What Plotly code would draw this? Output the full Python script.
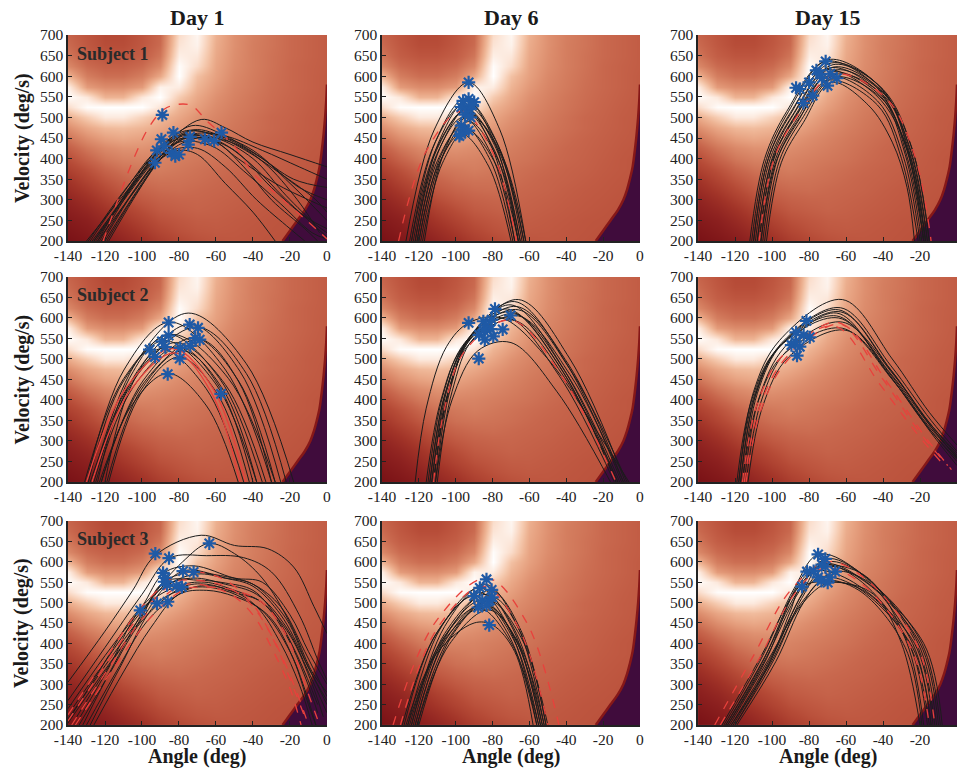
import plotly.graph_objects as go
from plotly.subplots import make_subplots

# ---------------- background landscape (read by eye, level 0..1) ----------------
angle_grid = [-140, -130, -120, -110, -100, -90, -80, -70, -60, -50, -40, -30, -20, -10, 0]
velocity_grid = [200, 225, 250, 275, 300, 325, 350, 375, 400, 425, 450, 475, 500,
                 525, 550, 575, 600, 625, 650, 675, 700]
landscape_level = [
    [0.198, 0.228, 0.266, 0.318, 0.379, 0.442, 0.491, 0.521, 0.540, 0.545, 0.540, 0.533, 0.525, 0.518, 0.512],
    [0.223, 0.258, 0.304, 0.362, 0.425, 0.485, 0.524, 0.547, 0.556, 0.552, 0.544, 0.537, 0.530, 0.522, 0.515],
    [0.251, 0.288, 0.347, 0.411, 0.471, 0.522, 0.547, 0.565, 0.567, 0.558, 0.550, 0.540, 0.535, 0.527, 0.520],
    [0.282, 0.328, 0.392, 0.457, 0.512, 0.555, 0.572, 0.585, 0.577, 0.567, 0.557, 0.548, 0.540, 0.532, 0.523],
    [0.313, 0.373, 0.443, 0.508, 0.552, 0.580, 0.592, 0.595, 0.585, 0.575, 0.563, 0.553, 0.545, 0.535, 0.527],
    [0.359, 0.424, 0.494, 0.552, 0.588, 0.609, 0.615, 0.605, 0.595, 0.585, 0.570, 0.558, 0.550, 0.540, 0.530],
    [0.405, 0.480, 0.545, 0.592, 0.623, 0.634, 0.630, 0.620, 0.605, 0.590, 0.580, 0.567, 0.555, 0.545, 0.535],
    [0.461, 0.526, 0.592, 0.631, 0.646, 0.660, 0.645, 0.630, 0.615, 0.600, 0.585, 0.575, 0.560, 0.550, 0.540],
    [0.512, 0.586, 0.643, 0.671, 0.680, 0.675, 0.660, 0.645, 0.630, 0.610, 0.595, 0.580, 0.565, 0.550, 0.540],
    [0.573, 0.642, 0.689, 0.713, 0.715, 0.700, 0.680, 0.660, 0.640, 0.620, 0.600, 0.585, 0.570, 0.555, 0.545],
    [0.636, 0.706, 0.750, 0.770, 0.755, 0.730, 0.700, 0.675, 0.650, 0.630, 0.610, 0.590, 0.575, 0.560, 0.550],
    [0.702, 0.767, 0.810, 0.820, 0.800, 0.770, 0.730, 0.695, 0.665, 0.640, 0.620, 0.600, 0.580, 0.565, 0.550],
    [0.780, 0.860, 0.935, 0.935, 0.875, 0.815, 0.765, 0.715, 0.680, 0.650, 0.625, 0.600, 0.585, 0.565, 0.555],
    [0.900, 0.990, 1.000, 1.000, 1.000, 0.920, 0.800, 0.745, 0.695, 0.660, 0.635, 0.610, 0.590, 0.570, 0.555],
    [0.990, 0.930, 0.800, 0.800, 0.930, 1.000, 0.855, 0.770, 0.710, 0.670, 0.640, 0.615, 0.595, 0.575, 0.558],
    [0.950, 0.740, 0.700, 0.700, 0.740, 0.960, 0.940, 0.800, 0.730, 0.680, 0.650, 0.620, 0.600, 0.580, 0.560],
    [0.800, 0.660, 0.620, 0.620, 0.660, 0.770, 1.000, 0.830, 0.750, 0.690, 0.655, 0.625, 0.600, 0.580, 0.560],
    [0.690, 0.610, 0.580, 0.580, 0.610, 0.690, 0.990, 0.900, 0.760, 0.700, 0.660, 0.630, 0.600, 0.580, 0.565],
    [0.640, 0.570, 0.540, 0.540, 0.570, 0.640, 0.950, 0.930, 0.770, 0.705, 0.660, 0.630, 0.605, 0.585, 0.565],
    [0.610, 0.550, 0.510, 0.510, 0.550, 0.610, 0.920, 0.960, 0.780, 0.710, 0.660, 0.635, 0.605, 0.585, 0.565],
    [0.590, 0.540, 0.500, 0.500, 0.540, 0.600, 0.900, 0.970, 0.790, 0.710, 0.665, 0.635, 0.605, 0.585, 0.565],
]
# purple (infeasible) region boundary
purple_edge_angle = [-24, -20, -16, -12, -9, -7, -5.5, -4, -2.8, -1.8, -1, -0.4, 0]
purple_edge_velocity = [200, 225, 250, 275, 300, 325, 350, 380, 420, 460, 500, 540, 580]

landscape_colors = [
    [0.00, '#3c0b3b'], [0.15, '#6e0e18'], [0.20, '#7a1216'], [0.30, '#8e2220'],
    [0.40, '#a23428'], [0.50, '#b54a36'], [0.55, '#bf5841'], [0.60, '#c8674d'],
    [0.65, '#d27a5c'], [0.70, '#dc8c6c'], [0.75, '#e6a07f'], [0.80, '#eeb494'],
    [0.85, '#f5c9ae'], [0.90, '#fadcca'], [0.95, '#fdefe6'], [1.00, '#ffffff'],
]

# ---------------- text / ticks ----------------
day_titles = ["Day 1", "Day 6", "Day 15"]
subject_labels = ["Subject 1", "Subject 2", "Subject 3"]
x_tick_values = [-140, -120, -100, -80, -60, -40, -20, 0]
x_tick_labels = ["-140", "-120", "-100", "-80", "-60", "-40", "-20", "0"]
y_tick_values = [200, 250, 300, 350, 400, 450, 500, 550, 600, 650, 700]
y_tick_labels = ["200", "250", "300", "350", "400", "450", "500", "550", "600", "650", "700"]

# ---------------- Subject 1 ----------------
s1_day1_black = [
    [(-128, 200), (-108, 330), (-92, 420), (-72, 470), (-55, 450), (-35, 400), (-15, 330), (0, 300)],
    [(-125, 200), (-106, 330), (-90, 425), (-73, 480), (-57, 460), (-38, 410), (-18, 350), (0, 330)],
    [(-123, 200), (-104, 340), (-88, 430), (-68, 495), (-55, 475), (-40, 440), (-20, 410), (0, 380)],
    [(-127, 200), (-107, 320), (-92, 405), (-78, 455), (-60, 445), (-42, 390), (-22, 300), (-5, 230), (0, 210)],
    [(-121, 200), (-103, 330), (-88, 415), (-75, 465), (-58, 455), (-40, 420), (-20, 340), (0, 250)],
    [(-126, 200), (-108, 310), (-94, 390), (-80, 440), (-62, 430), (-45, 370), (-25, 290), (-8, 220), (0, 205)],
    [(-120, 200), (-103, 320), (-90, 400), (-76, 450), (-60, 440), (-45, 380), (-30, 300), (-12, 230), (-5, 200)],
    [(-124, 200), (-105, 315), (-91, 395), (-80, 420), (-70, 410), (-55, 340), (-40, 270), (-28, 200)],
    [(-118, 200), (-100, 335), (-86, 425), (-72, 460), (-55, 455), (-35, 420), (-15, 380), (0, 350)],
    [(-129, 200), (-110, 320), (-95, 400), (-82, 445), (-66, 448), (-50, 420), (-30, 330), (-12, 260), (0, 230)],
    [(-122, 200), (-104, 325), (-89, 410), (-74, 455), (-60, 450), (-40, 400), (-22, 310), (-6, 240), (0, 220)],
    [(-119, 200), (-101, 330), (-86, 415), (-70, 450), (-52, 440), (-34, 390), (-16, 300), (-4, 220)],
    [(-126, 200), (-107, 325), (-92, 410), (-78, 458), (-62, 445), (-48, 400), (-28, 340), (-10, 300), (0, 280)],
    [(-124, 200), (-106, 335), (-90, 430), (-76, 468), (-60, 455), (-44, 420), (-24, 360), (-6, 300), (0, 270)],
    [(-130, 200), (-112, 300), (-97, 380), (-84, 420), (-70, 425), (-55, 380), (-38, 300), (-20, 230), (-12, 200)],
]
s1_day1_red = [
    [(-121, 200), (-113, 300), (-104, 405), (-96, 478), (-88, 520), (-80, 532), (-73, 528), (-65, 492),
     (-50, 430), (-40, 365), (-25, 305), (-11, 250), (0, 205)],
]
s1_day1_star_angle = [-89, -83, -89.5, -75, -92, -88, -93, -84, -82, -74, -66, -57, -61, -80]
s1_day1_star_velocity = [506, 463, 447, 434, 420, 430, 390, 414, 406, 453, 447, 463, 443, 410]

s1_day6_black = [
    [(-127, 200), (-111.7, 469.5), (-93, 585), (-76, 469.5), (-62, 200)],
    [(-124, 200), (-111, 441.5), (-95, 545), (-79, 441.5), (-66, 200)],
    [(-122, 200), (-109.4, 438), (-94, 540), (-77.5, 438), (-64, 200)],
    [(-125, 200), (-112, 431), (-96, 530), (-80.6, 431), (-68, 200)],
    [(-121, 200), (-108.4, 427.5), (-93, 525), (-76.5, 427.5), (-63, 200)],
    [(-123, 200), (-110.4, 420.5), (-95, 515), (-79, 420.5), (-66, 200)],
    [(-120, 200), (-107.4, 413.5), (-92, 505), (-75.5, 413.5), (-62, 200)],
    [(-122, 200), (-110.3, 410), (-96, 500), (-80.6, 410), (-68, 200)],
    [(-119, 200), (-107.3, 403), (-93, 490), (-77.6, 403), (-65, 200)],
    [(-121, 200), (-109.8, 396), (-96, 480), (-81.2, 396), (-69, 200)],
    [(-118, 200), (-107.2, 389), (-94, 470), (-78.6, 389), (-66, 200)],
    [(-120, 200), (-109.7, 382), (-97, 460), (-82.2, 382), (-70, 200)],
    [(-117, 200), (-106.2, 417), (-93, 510), (-76.5, 417), (-63, 200)],
    [(-124, 200), (-110.5, 424), (-94, 520), (-78, 424), (-65, 200)],
]
s1_day6_red = [
    [(-131, 200), (-115.7, 420.5), (-97, 515), (-80.5, 420.5), (-67, 200)],
]
s1_day6_star_angle = [-93, -93, -90, -96, -97, -93, -95, -92, -97, -95, -97, -93, -98, -91]
s1_day6_star_velocity = [585, 545, 537, 540, 525, 520, 507, 500, 480, 470, 460, 468, 455, 530]

s1_day15_black = [
    [(-111, 200), (-103, 400), (-91, 515), (-70, 640), (-43, 580), (-25, 420), (-16, 200)],
    [(-110, 200), (-102, 400), (-90, 512), (-68, 632), (-41, 572), (-26, 420), (-17, 200)],
    [(-108, 200), (-100, 400), (-88, 510), (-67, 628), (-40, 568), (-24, 420), (-15, 200)],
    [(-109, 200), (-101, 400), (-89, 505), (-69, 620), (-42, 560), (-27, 420), (-18, 200)],
    [(-107, 200), (-99, 400), (-87, 505), (-66, 615), (-39, 555), (-25, 415), (-16, 200)],
    [(-106, 200), (-98, 400), (-86, 500), (-68, 610), (-41, 550), (-28, 410), (-19, 200)],
    [(-105, 200), (-97, 400), (-85, 500), (-65, 605), (-38, 545), (-26, 410), (-17, 200)],
    [(-108, 200), (-100, 395), (-88, 495), (-70, 600), (-43, 540), (-29, 405), (-20, 200)],
    [(-104, 200), (-96, 395), (-84, 495), (-66, 598), (-39, 538), (-27, 405), (-18, 200)],
    [(-106, 200), (-98, 390), (-86, 490), (-70, 590), (-43, 530), (-30, 400), (-21, 200)],
    [(-103, 200), (-95, 390), (-83, 488), (-68, 585), (-48, 530), (-35, 440), (-27, 330), (-23, 200)],
    [(-110, 200), (-102, 400), (-90, 508), (-72, 615), (-44, 555), (-26, 415), (-17, 200)],
    [(-107, 200), (-99, 400), (-87, 508), (-67, 622), (-40, 562), (-24, 420), (-15, 200)],
    [(-112, 200), (-104, 400), (-92, 515), (-71, 636), (-44, 576), (-27, 420), (-18, 200)],
]
s1_day15_red = [
    [(-107, 200), (-99, 398), (-87, 500), (-66, 605), (-38, 545), (-23, 410), (-14, 200)],
]
s1_day15_star_angle = [-71, -85, -83, -78, -76, -73, -68.5, -65, -70, -87, -80, -74]
s1_day15_star_velocity = [636, 569, 535, 553, 614, 595, 606, 595, 577, 572, 585, 605]

# ---------------- Subject 2 ----------------
s2_day1_black = [
    [(-127, 200), (-103.6, 488.4), (-75, 612), (-43.6, 488.4), (-18, 200)],
    [(-130, 200), (-109.8, 473), (-85, 590), (-54.8, 473), (-30, 200)],
    [(-126, 200), (-102.6, 469.5), (-74, 585), (-47, 469.5), (-25, 200)],
    [(-128, 200), (-101.9, 464.6), (-70, 578), (-43.6, 464.6), (-22, 200)],
    [(-124, 200), (-106.9, 452), (-86, 560), (-58, 452), (-35, 200)],
    [(-129, 200), (-110.6, 441.5), (-88, 545), (-60.5, 441.5), (-38, 200)],
    [(-122, 200), (-99.5, 446.4), (-72, 552), (-47.8, 446.4), (-28, 200)],
    [(-125, 200), (-104.8, 431), (-80, 530), (-58, 431), (-40, 200)],
    [(-120, 200), (-106.5, 427.5), (-90, 525), (-65.3, 427.5), (-45, 200)],
    [(-127, 200), (-106.8, 438), (-82, 540), (-55, 438), (-33, 200)],
    [(-118, 200), (-100.9, 413.5), (-80, 505), (-59.1, 413.5), (-42, 200)],
    [(-122, 200), (-105.8, 385.5), (-86, 465), (-65.1, 385.5), (-48, 200)],
    [(-131, 200), (-109.9, 452), (-84, 560), (-53.2, 452), (-28, 200)],
    [(-123, 200), (-98.7, 443.6), (-69, 548), (-47.6, 443.6), (-30, 200)],
    [(-119, 200), (-100.6, 424), (-78, 520), (-56, 424), (-38, 200)],
]
s2_day1_red = [
    [(-130, 200), (-108.9, 427.5), (-83, 525), (-61.6, 427.5), (-44, 200)],
    [(-127, 200), (-106.8, 420.5), (-82, 515), (-62.8, 420.5), (-47, 200)],
]
s2_day1_star_angle = [-85.6, -74.2, -69.7, -95.9, -89.2, -85.6, -87.4, -79.3, -79.6, -73.9, -71.2, -68.8, -86.1, -57.3, -93]
s2_day1_star_velocity = [589, 584, 576, 523, 543, 557, 529, 527, 501, 532, 551, 547, 463, 415, 505]

s2_day6_black = [
    [(-113, 200), (-105, 420), (-93, 550), (-66, 645), (-38, 500), (-8, 200)],
    [(-112, 200), (-104, 420), (-92, 555), (-68, 640), (-40, 490), (-10, 200)],
    [(-114, 200), (-106, 410), (-94, 545), (-70, 632), (-42, 480), (-12, 200)],
    [(-111, 200), (-103, 425), (-91, 560), (-66, 620), (-38, 475), (-7, 200)],
    [(-115, 200), (-107, 410), (-95, 540), (-70, 615), (-42, 470), (-13, 200)],
    [(-112, 200), (-104, 415), (-92, 548), (-68, 610), (-40, 465), (-11, 200)],
    [(-110, 200), (-102, 420), (-90, 552), (-66, 605), (-38, 462), (-9, 200)],
    [(-116, 200), (-108, 400), (-96, 530), (-72, 600), (-44, 460), (-14, 200)],
    [(-113, 200), (-105, 405), (-93, 535), (-69, 595), (-41, 455), (-12, 200)],
    [(-111, 200), (-102, 400), (-88, 520), (-70, 540), (-45, 420), (-16, 200)],
    [(-122, 200), (-116, 380), (-105, 530), (-93, 588), (-75, 600), (-50, 500), (-20, 300), (-6, 200)],
    [(-114, 200), (-106, 412), (-93, 548), (-72, 622), (-44, 485), (-13, 200)],
    [(-112, 200), (-104, 418), (-91, 556), (-67, 628), (-39, 488), (-9, 200)],
]
s2_day6_red = [
    [(-112, 200), (-106, 380), (-95, 520), (-70, 595), (-42, 455), (-13, 200)],
]
s2_day6_star_angle = [-93, -78.7, -70.2, -85, -80.5, -87.3, -83.3, -81, -79.6, -74.5, -87.5, -84.2, -85]
s2_day6_star_velocity = [588, 622, 606, 592, 596, 559, 581, 573, 555, 572, 501, 547, 570]

s2_day15_black = [
    [(-118, 200), (-110, 420), (-96, 545), (-62, 645), (-35, 500), (-15, 370), (0, 290)],
    [(-116, 200), (-108, 415), (-94, 540), (-64, 620), (-37, 480), (-16, 350), (0, 270)],
    [(-117, 200), (-109, 410), (-95, 535), (-63, 615), (-36, 475), (-15, 345), (0, 265)],
    [(-115, 200), (-107, 405), (-93, 530), (-65, 612), (-38, 470), (-17, 340), (0, 255)],
    [(-119, 200), (-111, 400), (-97, 525), (-64, 600), (-36, 465), (-15, 340), (0, 260)],
    [(-114, 200), (-106, 395), (-92, 520), (-62, 590), (-34, 460), (-14, 335), (0, 258)],
    [(-116, 200), (-108, 390), (-94, 510), (-62, 575), (-35, 450), (-15, 330), (0, 250)],
    [(-113, 200), (-105, 385), (-91, 505), (-60, 570), (-34, 445), (-14, 320), (0, 240)],
    [(-117, 200), (-109, 412), (-95, 538), (-63, 625), (-36, 485), (-14, 350), (0, 275)],
    [(-118, 200), (-110, 405), (-96, 530), (-65, 605), (-37, 468), (-16, 340), (0, 262)],
]
s2_day15_red = [
    [(-115, 200), (-107, 380), (-93, 500), (-65, 590), (-40, 450), (-20, 320), (-5, 240)],
    [(-114, 200), (-106, 375), (-92, 495), (-63, 585), (-38, 445), (-18, 315), (-3, 230)],
    [(-116, 200), (-108, 390), (-94, 510), (-66, 580), (-42, 440), (-22, 320), (-6, 235)],
]
s2_day15_star_angle = [-81.4, -87, -89.5, -86.5, -79.6, -82.9, -87.4, -85]
s2_day15_star_velocity = [593, 565, 534, 508, 553, 558, 542, 530]

# ---------------- Subject 3 ----------------
s3_day1_black = [
    [(-140, 305), (-120, 430), (-105, 530), (-93, 615), (-68, 665), (-50, 640), (-32, 632), (-18, 587), (-7, 490), (0, 424)],
    [(-140, 260), (-120, 390), (-100, 520), (-85, 609), (-65, 615), (-45, 610), (-30, 575), (-15, 470), (-5, 360), (0, 310)],
    [(-132, 200), (-115, 350), (-95, 510), (-78, 600), (-64, 645), (-50, 620), (-35, 560), (-20, 450), (-8, 330), (0, 280)],
    [(-140, 240), (-120, 370), (-100, 490), (-88, 573), (-72, 590), (-50, 560), (-35, 550), (-20, 470), (-10, 380), (0, 300)],
    [(-140, 225), (-120, 355), (-100, 480), (-78, 577), (-60, 568), (-40, 545), (-25, 490), (-12, 380), (0, 270)],
    [(-140, 215), (-120, 345), (-100, 470), (-88, 551), (-72, 575), (-55, 560), (-40, 540), (-25, 470), (-12, 360), (0, 250)],
    [(-138, 200), (-120, 330), (-100, 460), (-86, 543), (-72, 560), (-55, 545), (-38, 520), (-22, 440), (-10, 330), (0, 230)],
    [(-136, 200), (-118, 340), (-101, 481), (-81, 540), (-66, 550), (-50, 530), (-35, 500), (-20, 420), (-8, 300), (-2, 220)],
    [(-134, 200), (-117, 330), (-100, 455), (-78, 538), (-65, 545), (-50, 525), (-35, 500), (-22, 420), (-12, 320), (-5, 230)],
    [(-130, 200), (-114, 330), (-98, 450), (-86, 502), (-70, 540), (-52, 530), (-38, 490), (-25, 400), (-15, 300), (-8, 200)],
    [(-128, 200), (-112, 340), (-92, 498), (-75, 535), (-60, 535), (-45, 510), (-30, 460), (-18, 360), (-10, 250), (-6, 200)],
    [(-140, 205), (-120, 335), (-102, 450), (-88, 551), (-70, 555), (-55, 548), (-40, 530), (-28, 470), (-15, 360), (-5, 250)],
    [(-126, 200), (-110, 330), (-95, 440), (-80, 520), (-65, 530), (-50, 515), (-35, 480), (-20, 380), (-10, 260), (-6, 200)],
    [(-140, 210), (-122, 340), (-104, 470), (-86.5, 543), (-70, 570), (-55, 560), (-40, 545), (-22, 460), (-10, 340), (0, 260)],
]
s3_day1_red = [
    [(-140, 225), (-120, 360), (-100, 490), (-80, 570), (-70, 575), (-55, 555), (-40, 495), (-28, 400), (-18, 290), (-12, 220)],
    [(-140, 210), (-120, 345), (-100, 475), (-82, 550), (-72, 555), (-55, 540), (-42, 500), (-30, 420), (-18, 300), (-10, 200)],
    [(-138, 200), (-118, 340), (-98, 470), (-80, 540), (-70, 545), (-52, 520), (-40, 470), (-30, 390), (-20, 290), (-14, 200)],
    [(-136, 200), (-116, 335), (-96, 460), (-78, 530), (-68, 538), (-50, 530), (-35, 500), (-22, 420), (-12, 300), (-4, 200)],
]
s3_day1_star_angle = [-92.8, -85.4, -63.6, -88.6, -77.8, -72.1, -87.9, -86.5, -81.4, -78.4, -100.9, -91.9, -86.1, -87.4]
s3_day1_star_velocity = [620, 609, 645, 573, 577, 575, 551, 543, 540, 538, 481, 498, 502, 561]

s3_day6_black = [
    [(-124, 200), (-106, 441.5), (-84, 545), (-66.4, 441.5), (-52, 200)],
    [(-126, 200), (-108.5, 435), (-87, 536), (-68.9, 435), (-54, 200)],
    [(-122, 200), (-103.6, 431), (-81, 530), (-64.5, 431), (-51, 200)],
    [(-128, 200), (-110.9, 421), (-90, 516), (-71.3, 421), (-56, 200)],
    [(-123, 200), (-106.4, 413.5), (-86, 505), (-67.9, 413.5), (-53, 200)],
    [(-121, 200), (-103.5, 413.5), (-82, 505), (-64.4, 413.5), (-50, 200)],
    [(-125, 200), (-108.4, 401.6), (-88, 488), (-69.9, 401.6), (-55, 200)],
    [(-120, 200), (-102, 419), (-80, 513), (-64, 419), (-51, 200)],
    [(-126, 200), (-106.7, 405), (-83, 493), (-67, 405), (-54, 200)],
    [(-127, 200), (-110.4, 375), (-90, 450), (-80, 445), (-68, 380), (-58, 200)],
    [(-124, 200), (-106, 424), (-84, 520), (-67, 424), (-53, 200)],
    [(-122, 200), (-105.4, 408.6), (-85, 498), (-68.5, 408.6), (-55, 200)],
    [(-129, 200), (-110.1, 427.5), (-87, 525), (-70, 427.5), (-56, 200)],
    [(-121, 200), (-103.5, 397.4), (-82, 482), (-65.5, 397.4), (-52, 200)],
]
s3_day6_red = [
    [(-134, 200), (-111, 452), (-83, 560), (-61.6, 452), (-44, 200)],
    [(-130, 200), (-109.8, 438), (-85, 540), (-65.8, 438), (-50, 200)],
]
s3_day6_star_angle = [-83.3, -86.9, -80.5, -90, -85.6, -81.5, -87.8, -81.8, -80.2, -83.3]
s3_day6_star_velocity = [557, 536, 531, 516, 505, 505, 488, 445, 513, 493]

s3_day15_black = [
    [(-126, 200), (-105, 370), (-88, 535), (-75, 618), (-55, 582), (-24, 400), (-14, 200)],
    [(-124, 200), (-103, 366), (-85, 530), (-71, 607), (-51, 569), (-22, 400), (-12, 200)],
    [(-122, 200), (-101, 362), (-84, 520), (-73, 593), (-53, 556), (-26, 400), (-16, 200)],
    [(-125, 200), (-104, 365), (-89, 520), (-81, 576), (-68, 592), (-48, 560), (-27, 400), (-18, 200)],
    [(-121, 200), (-100, 365), (-83, 525), (-70, 588), (-50, 552), (-20, 400), (-10, 200)],
    [(-123, 200), (-102, 360), (-82, 512), (-66, 576), (-46, 545), (-19, 400), (-9, 200)],
    [(-120, 200), (-99, 360), (-84, 510), (-75, 562), (-55, 540), (-24, 390), (-14, 200)],
    [(-119, 200), (-98, 355), (-83, 500), (-73, 553), (-53, 530), (-28, 390), (-19, 200)],
    [(-127, 200), (-106, 368), (-87, 530), (-70, 600), (-50, 565), (-21, 400), (-11, 200)],
    [(-122, 200), (-101, 350), (-84, 495), (-69, 549), (-49, 525), (-25, 390), (-15, 200)],
    [(-124, 200), (-103, 362), (-88, 525), (-78, 577), (-58, 555), (-23, 400), (-13, 200)],
    [(-120, 200), (-101, 355), (-90, 480), (-84, 539), (-65, 550), (-45, 520), (-30, 400), (-20, 200)],
    [(-125, 200), (-104, 366), (-86, 528), (-72, 595), (-52, 560), (-18, 400), (-8, 200)],
]
s3_day15_red = [
    [(-131, 200), (-110, 370), (-90, 530), (-70, 600), (-50, 560), (-22, 400), (-12, 200)],
    [(-128, 200), (-107, 362), (-88, 520), (-72, 585), (-52, 548), (-25, 390), (-15, 200)],
]
s3_day15_star_angle = [-75.1, -71.2, -81.1, -73, -75.1, -73.3, -69.9, -65.8, -83.8, -77.5, -71.2, -68.8]
s3_day15_star_velocity = [618, 607, 576, 593, 562, 553, 549, 576, 539, 577, 588, 562]

panels = [
    [(s1_day1_black, s1_day1_red, 'dash', s1_day1_star_angle, s1_day1_star_velocity),
     (s1_day6_black, s1_day6_red, 'dash', s1_day6_star_angle, s1_day6_star_velocity),
     (s1_day15_black, s1_day15_red, 'dash', s1_day15_star_angle, s1_day15_star_velocity)],
    [(s2_day1_black, s2_day1_red, 'solid', s2_day1_star_angle, s2_day1_star_velocity),
     (s2_day6_black, s2_day6_red, 'dash', s2_day6_star_angle, s2_day6_star_velocity),
     (s2_day15_black, s2_day15_red, 'dash', s2_day15_star_angle, s2_day15_star_velocity)],
    [(s3_day1_black, s3_day1_red, 'dash', s3_day1_star_angle, s3_day1_star_velocity),
     (s3_day6_black, s3_day6_red, 'dash', s3_day6_star_angle, s3_day6_star_velocity),
     (s3_day15_black, s3_day15_red, 'dash', s3_day15_star_angle, s3_day15_star_velocity)],
]

# ---------------- figure ----------------
FONT = "Liberation Serif"
fig = make_subplots(rows=3, cols=3)

col_domains = [[0.0, 0.2913], [0.3532, 0.6434], [0.7087, 1.0]]
row_domains = [[0.7014, 1.0], [0.3522, 0.6493], [0.0, 0.2957]]


def add_curve(pts, r, c, color, width, dash):
    fig.add_trace(go.Scatter(
        x=[p[0] for p in pts], y=[p[1] for p in pts], mode='lines',
        line=dict(color=color, width=width, dash=dash, shape='spline', smoothing=1.0),
        hoverinfo='skip', showlegend=False), row=r, col=c)


for ri in range(3):
    for ci in range(3):
        r, c = ri + 1, ci + 1
        black, red, red_dash, st_x, st_y = panels[ri][ci]
        fig.add_trace(go.Heatmap(
            x=angle_grid, y=velocity_grid, z=landscape_level, zmin=0, zmax=1,
            colorscale=landscape_colors, zsmooth='best', showscale=False,
            hoverinfo='skip'), row=r, col=c)
        fig.add_trace(go.Scatter(
            x=purple_edge_angle + [2, 2, purple_edge_angle[0]],
            y=purple_edge_velocity + [purple_edge_velocity[-1], 190, 190],
            mode='lines', fill='toself', fillcolor='#400c3c',
            line=dict(width=0, color='#400c3c'), hoverinfo='skip', showlegend=False),
            row=r, col=c)
        fig.add_trace(go.Scatter(
            x=purple_edge_angle, y=purple_edge_velocity, mode='lines',
            line=dict(color='#861818', width=2.5, shape='spline'),
            hoverinfo='skip', showlegend=False), row=r, col=c)
        for pts in black:
            add_curve(pts, r, c, '#1c1c1c', 1.0, 'solid')
        for pts in red:
            add_curve(pts, r, c, '#e8413c', 1.3, red_dash)
        fig.add_trace(go.Scatter(
            x=st_x, y=st_y, mode='markers',
            marker=dict(symbol='asterisk-open', size=11, color='#1f5aa6',
                        line=dict(color='#1f5aa6', width=2.2)),
            hoverinfo='skip', showlegend=False), row=r, col=c)

        idx = ri * 3 + ci + 1
        xname = 'xaxis' if idx == 1 else f'xaxis{idx}'
        yname = 'yaxis' if idx == 1 else f'yaxis{idx}'
        fig.layout[xname].update(
            domain=col_domains[ci], range=[-140, 0], tickvals=x_tick_values,
            ticktext=x_tick_labels, ticks='inside', ticklen=4, tickwidth=1,
            tickcolor='#222', showline=True, linecolor='#222', linewidth=1.5,
            showgrid=False, zeroline=False, mirror=False, automargin=False,
            tickfont=dict(family=FONT, size=15.5, color='#222'))
        fig.layout[yname].update(
            domain=row_domains[ri], range=[200, 700], tickvals=y_tick_values,
            ticktext=y_tick_labels, ticks='inside', ticklen=4, tickwidth=1,
            tickcolor='#222', showline=True, linecolor='#222', linewidth=1.5,
            showgrid=False, zeroline=False, mirror=False, automargin=False,
            tickfont=dict(family=FONT, size=15.5, color='#222'))

annotations = []
for ci, title in enumerate(day_titles):
    cx = sum(col_domains[ci]) / 2
    annotations.append(dict(text=f"<b>{title}</b>", x=cx, y=1.026, xref='paper', yref='paper',
                            xanchor='center', yanchor='middle', showarrow=False,
                            font=dict(family=FONT, size=22, color='#1a1a1a')))
    annotations.append(dict(text="<b>Angle (deg)</b>", x=cx, y=-0.0455, xref='paper', yref='paper',
                            xanchor='center', yanchor='middle', showarrow=False,
                            font=dict(family=FONT, size=20, color='#1a1a1a')))
for ri, subj in enumerate(subject_labels):
    cy = sum(row_domains[ri]) / 2
    annotations.append(dict(text="<b>Velocity (deg/s)</b>", x=-0.0517, y=cy, xref='paper', yref='paper',
                            xanchor='center', yanchor='middle', textangle=-90, showarrow=False,
                            font=dict(family=FONT, size=20, color='#1a1a1a')))
    idx = ri * 3 + 1
    annotations.append(dict(text=f"<b>{subj}</b>", x=-136, y=655,
                            xref=f'x{idx}' if idx > 1 else 'x', yref=f'y{idx}' if idx > 1 else 'y',
                            xanchor='left', yanchor='middle', showarrow=False,
                            font=dict(family=FONT, size=18, color='#2a2a2a')))

fig.update_layout(
    width=959, height=768,
    margin=dict(l=68, r=2, t=35, b=43, autoexpand=False),
    paper_bgcolor='white', plot_bgcolor='white',
    font=dict(family=FONT),
    showlegend=False,
    annotations=annotations,
)

fig.write_html("out.html", config={'displayModeBar': False},
               post_script="document.body.style.margin='0px';document.body.style.overflow='hidden';")
